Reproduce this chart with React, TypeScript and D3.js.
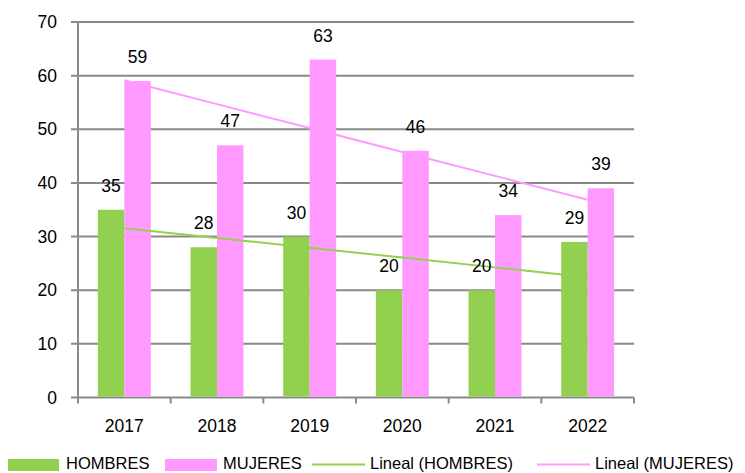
import React from 'react';
import * as d3 from 'd3';

// chart values
const years = ['2017', '2018', '2019', '2020', '2021', '2022'];
const hombres = [35, 28, 30, 20, 20, 29];
const mujeres = [59, 47, 63, 46, 34, 39];
const yTicks = [0, 10, 20, 30, 40, 50, 60, 70];

const GREEN = '#92D050';
const PINK = '#FF99FF';
const GRID = '#898989';
const FONT = '"Liberation Sans", Arial, sans-serif';

const W = 745;
const H = 473;
const LEFT = 78;
const RIGHT = 634;
const TOP = 22;
const BOTTOM = 397.5;

// least squares fit over category index 1..n
function linearTrend(values: number[]) {
  const xs = values.map((_, i) => i + 1);
  const mx = d3.mean(xs) as number;
  const my = d3.mean(values) as number;
  let sxy = 0;
  let sxx = 0;
  xs.forEach((x, i) => {
    sxy += (x - mx) * (values[i] - my);
    sxx += (x - mx) * (x - mx);
  });
  const slope = sxy / sxx;
  return xs.map((x) => my + slope * (x - mx));
}

export default function App() {
  const x = d3.scaleBand<string>().domain(years).range([LEFT, RIGHT]);
  const y = d3.scaleLinear().domain([0, 70]).range([BOTTOM, TOP]);
  const bw = x.bandwidth();
  // gap width 150%: band = 2 bars + 1.5 bar
  const barW = bw / 3.5;
  const inset = (bw - 2 * barW) / 2;

  const center = (yr: string) => (x(yr) as number) + bw / 2;
  const line = d3
    .line<number>()
    .x((_, i) => center(years[i]))
    .y((d) => y(d));

  const trendH = linearTrend(hombres);
  const trendM = linearTrend(mujeres);

  const series = [
    { name: 'HOMBRES', values: hombres, color: GREEN, off: 0 },
    { name: 'MUJERES', values: mujeres, color: PINK, off: 1 },
  ];

  const boundaries = [LEFT, ...years.map((yr) => (x(yr) as number) + bw)];

  return (
    <svg width={W} height={H} style={{ position: 'absolute', left: 0, top: 0 }} fontFamily={FONT}>
      <rect width={W} height={H} fill="#fff" />
      {/* gridlines */}
      {yTicks.map((t) => (
        <g key={`g-${t}`}>
          <line x1={LEFT - 7} x2={RIGHT} y1={y(t)} y2={y(t)} stroke={GRID} strokeWidth={2} />
          <text x={57} y={y(t)} dy="0.35em" textAnchor="end" fontSize={17.5} fill="#000">
            {t}
          </text>
        </g>
      ))}
      {/* y axis */}
      <line x1={LEFT} x2={LEFT} y1={TOP} y2={BOTTOM} stroke={GRID} strokeWidth={2} />
      {/* x ticks */}
      {boundaries.map((bx, i) => (
        <line key={`xt-${i}`} x1={bx} x2={bx} y1={BOTTOM} y2={BOTTOM + 6} stroke={GRID} strokeWidth={2} />
      ))}
      {years.map((yr) => (
        <text key={`xl-${yr}`} x={center(yr)} y={432} textAnchor="middle" fontSize={17.5} fill="#000">
          {yr}
        </text>
      ))}
      {/* bars */}
      {series.map((s) =>
        s.values.map((v, i) => (
          <rect
            key={`${s.name}-${i}`}
            x={(x(years[i]) as number) + inset + s.off * barW}
            y={y(v)}
            width={barW}
            height={BOTTOM - 1 - y(v)}
            fill={s.color}
          />
        ))
      )}
      {/* trend lines */}
      <path d={line(trendH) || ''} fill="none" stroke={GREEN} strokeWidth={2} />
      <path d={line(trendM) || ''} fill="none" stroke={PINK} strokeWidth={2} />
      {/* value labels */}
      {series.map((s) =>
        s.values.map((v, i) => (
          <text
            key={`lab-${s.name}-${i}`}
            x={(x(years[i]) as number) + inset + s.off * barW + barW / 2}
            y={y(v) - 18}
            textAnchor="middle"
            fontSize={17.5}
            fill="#000"
          >
            {v}
          </text>
        ))
      )}
      {/* legend */}
      <g fontSize={16.5} fill="#000">
        <rect x={8} y={459} width={51} height={12} fill={GREEN} />
        <text x={66} y={469}>HOMBRES</text>
        <rect x={165} y={459} width={52} height={12} fill={PINK} />
        <text x={223} y={469}>MUJERES</text>
        <line x1={312} x2={365} y1={464.5} y2={464.5} stroke={GREEN} strokeWidth={2} />
        <text x={370} y={469}>Lineal (HOMBRES)</text>
        <line x1={537} x2={590} y1={464.5} y2={464.5} stroke={PINK} strokeWidth={2} />
        <text x={595} y={469}>Lineal (MUJERES)</text>
      </g>
    </svg>
  );
}
